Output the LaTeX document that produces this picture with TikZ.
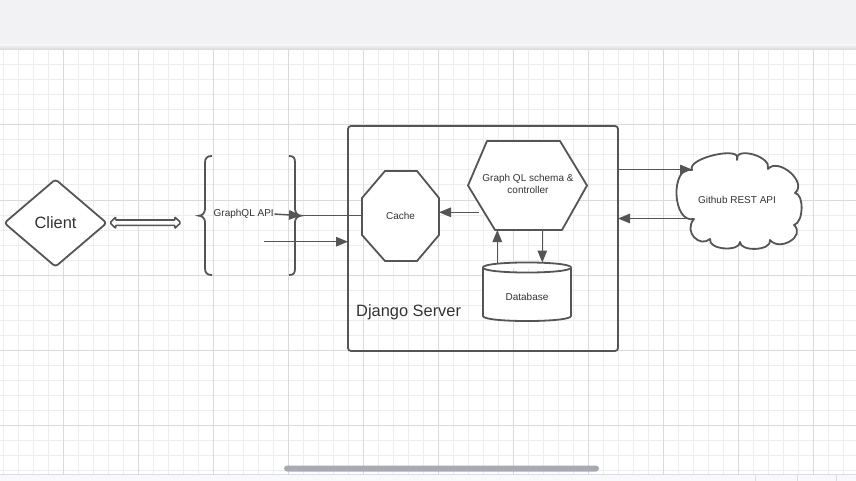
\documentclass[tikz,border=0pt]{standalone}
\usepackage{fontspec}
\setmainfont{Liberation Sans}
\usetikzlibrary{arrows.meta,calc,shapes.geometric}

\definecolor{ink}{HTML}{333333}
\definecolor{edge}{HTML}{555555}
\definecolor{gridminor}{HTML}{EDEDED}
\definecolor{gridmajor}{HTML}{DADADA}
\definecolor{toolbar}{HTML}{F2F2F4}
\definecolor{toolbarshade}{HTML}{D6D6DA}
\definecolor{footer}{HTML}{F8F9FB}
\definecolor{footerline}{HTML}{DCDDE3}
\definecolor{scrollthumb}{HTML}{A9A9B4}

\begin{document}
\begin{tikzpicture}[x=1pt,y=-1pt,
  font=\fontsize{10}{12}\selectfont, text=ink,
  shapeline/.style={draw=edge, line width=1.8pt, fill=white, line join=round},
  conn/.style={draw=edge, line width=1.4pt},
  arr/.style={conn, -{Triangle[length=12pt,width=9.5pt]}},
  plain/.style={inner sep=0pt, outer sep=0pt},
  bigtext/.style={font=\fontsize{16.4}{19}\selectfont},
  minorline/.style={draw=gridminor, line width=1pt},
  majorline/.style={draw=gridmajor, line width=1pt},
]
\useasboundingbox (0,0) rectangle (856,481);
\fill[white] (0,0) rectangle (856,481);

% canvas grid
\foreach \i in {0,...,56} \draw[minorline] ({3.3+15*\i},50) -- ({3.3+15*\i},474);
\foreach \j in {1,...,28} \draw[minorline] (0,{50+15*\j}) -- (856,{50+15*\j});
\foreach \i in {0,...,10} \draw[majorline] ({63.3+75*\i},50) -- ({63.3+75*\i},474);
\foreach \j in {1,...,5} \draw[majorline] (0,{50+75*\j}) -- (856,{50+75*\j});

% toolbar at the top
\fill[toolbar] (0,0) rectangle (856,45);
\shade[top color=toolbar, bottom color=toolbarshade] (0,45) rectangle (856,50);

% status strip and scrollbar at the bottom
\fill[footer] (0,474) rectangle (856,481);
\draw[footerline, line width=1pt] (0,474) -- (856,474);
\foreach \x in {755,797,836} \draw[footerline, line width=1pt] (\x,474) -- (\x,481);
\fill[scrollthumb, rounded corners=3pt] (284,465.5) rectangle (599,471.5);

% Django server container
\node[plain, draw=edge, line width=1.8pt, rounded corners=3pt,
      minimum width=270pt, minimum height=225pt] (django) at (483,238.5) {};
\node[bigtext, anchor=west, inner sep=0pt] (djlabel) at (356,312) {Django Server};

% client
\node[shapeline, diamond, rounded corners=3pt, bigtext, inner sep=0pt,
      minimum width=103pt, minimum height=88pt] (client) at (55.5,223) {Client};

% hollow two-way arrow between client and API
\coordinate (dbl) at (110,222.7);
\draw[draw=edge, fill=white, line width=1.6pt, rounded corners=1.2pt]
  (dbl) -- ++(6,-5.9) -- ++(-1,3.2) -- ++(60.5,0) -- ++(-1,-3.2) -- ++(6.3,5.9)
  -- ++(-6.3,5.9) -- ++(1,-3.2) -- ++(-60.5,0) -- ++(1,3.2) -- cycle;

% API braces
\coordinate (lbt) at (199,215.7);
\coordinate (rbt) at (301,215.7);
\draw[draw=edge, line width=1.8pt]
  (212,156) .. controls (207,156) and (205,158) .. (205,163) -- (205,209)
  .. controls (205,213) and (202,215.7) .. (lbt)
  .. controls (202,215.7) and (205,218.5) .. (205,222) -- (205,268)
  .. controls (205,273) and (207,275) .. (212,275);
\draw[draw=edge, line width=1.8pt]
  (289,156) .. controls (294,156) and (295,158) .. (295,163) -- (295,209)
  .. controls (295,213) and (298,215.7) .. (rbt)
  .. controls (298,215.7) and (295,218.5) .. (295,222) -- (295,268)
  .. controls (295,273) and (294,275) .. (289,275);
\node[anchor=west, inner sep=0.5pt] (gql) at (213,214) {GraphQL API};

% cache
\node[plain, minimum width=77pt, minimum height=90pt] (cache) at (400.5,216) {};
\draw[shapeline]
  ($(cache.north west)+(23,0)$) -- ($(cache.north east)+(-22,0)$)
  -- ($(cache.north east)+(0,27)$) -- ($(cache.south east)+(0,-26)$)
  -- ($(cache.south east)+(-22,0)$) -- ($(cache.south west)+(23,0)$)
  -- ($(cache.south west)+(0,-26)$) -- ($(cache.north west)+(0,27)$) -- cycle;
\node (cachelabel) at (cache.center) {Cache};

% schema and controller
\node[plain, minimum width=119pt, minimum height=89pt] (hex) at (527.5,185.5) {};
\draw[shapeline]
  (hex.west) -- ($(hex.north west)+(19,0)$) -- ($(hex.north east)+(-27,0)$)
  -- (hex.east) -- ($(hex.south east)+(-25,0)$) -- ($(hex.south west)+(27,0)$) -- cycle;
\node[align=center] (hexlabel) at (528,184) {Graph QL schema \&\\controller};

% database
\node[plain, minimum width=88pt, minimum height=58pt] (db) at (527,291.5) {};
\draw[shapeline]
  (483,267.5) -- (483,316) .. controls (483,322.7) and (571,322.7) .. (571,316)
  -- (571,267.5) .. controls (571,274.2) and (483,274.2) .. (483,267.5) -- cycle;
\draw[shapeline]
  (483,267.5) .. controls (483,260.8) and (571,260.8) .. (571,267.5);
\node (dblabel) at (527,297) {Database};

% Github REST API
\draw[shapeline]
  (692,170) .. controls (686,158) and (744,145) .. (737,160)
  .. controls (734,146) and (772,156) .. (768,169)
  .. controls (778,157) and (808,182) .. (795,193)
  .. controls (804,194) and (804,222) .. (794,225)
  .. controls (806,236) and (780,252) .. (770,240)
  .. controls (772,251) and (740,252) .. (740,242)
  .. controls (740,252) and (708,250) .. (710,239)
  .. controls (700,248) and (683,232) .. (694,219)
  .. controls (672,224) and (670,165) .. (692,170) -- cycle;
\node (gh) at (737,200) {Github REST API};

% connectors
\draw[arr] (gql.east) -- (rbt);
\draw[conn] (rbt) -- (rbt -| cache.west);
\coordinate (req) at (264,241.7);
\draw[arr] (req) -- (req -| django.west);
\coordinate (hexl) at (479.4,212.3);
\draw[arr] (hexl) -- (hexl -| cache.east);
\draw[arr] ([xshift=-29.7pt]db.north) -- ([xshift=-30.2pt]hex.south);
\draw[arr] ([xshift=14.8pt]hex.south) -- ([xshift=15.3pt]db.north);
\coordinate (ghin) at (692,169.5);
\coordinate (ghout) at (688,218.5);
\draw[arr] (ghin -| django.east) -- (ghin);
\draw[arr] (ghout) -- (ghout -| django.east);
\end{tikzpicture}
\end{document}
